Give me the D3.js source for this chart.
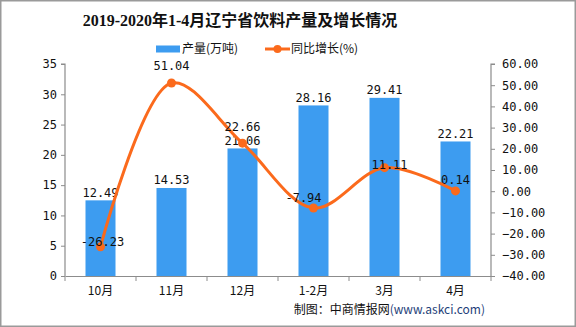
<!DOCTYPE html>
<html><head><meta charset="utf-8">
<script src="https://cdn.jsdelivr.net/npm/d3@7"></script>
<style>
body{margin:0;background:#fff;}
svg{display:block;}
</style></head>
<body>
<svg id="chart" width="576" height="327"></svg>
<script>
const categories = ["10月","11月","12月","1-2月","3月","4月"];
const production = [12.49, 14.53, 21.06, 28.16, 29.41, 22.21];
const growth = [-26.23, 51.04, 22.66, -7.94, 11.11, 0.14];
const leftTicks = [0,5,10,15,20,25,30,35];
const rightTicks = [-40,-30,-20,-10,0,10,20,30,40,50,60];
const lineLabelDy = [-4, -16, -16, -10, -2, -10];
const lineLabelDx = [2, 0, 0, -10, 5, 0];

const numFont = "'DejaVu Sans Mono','Noto Sans CJK SC',monospace";
const cjkFont = "'Noto Sans CJK SC','DejaVu Sans',sans-serif";
const barColor = "#3d9cf0", lineColor = "#fb6a1c", axisColor = "#8c8c8c";

const svg = d3.select("#chart");
const m = {left:65, right:491, top:64, bottom:276};

svg.append("rect").attr("x",0.75).attr("y",0.75).attr("width",574.5).attr("height",325.5)
  .attr("fill","#fff").attr("stroke","#9a9a9a").attr("stroke-width",1.5);

const x = d3.scaleBand().domain(categories).range([m.left,m.right]).paddingInner(0).paddingOuter(0);
const yL = d3.scaleLinear().domain([0,35]).range([m.bottom,m.top]);
const yR = d3.scaleLinear().domain([-40,60]).range([m.bottom,m.top]);

// axes
const gL = svg.append("g").attr("transform",`translate(${m.left},0)`)
  .call(d3.axisLeft(yL).tickValues(leftTicks).tickSize(4).tickPadding(4).tickFormat(d3.format("d")));
const gR = svg.append("g").attr("transform",`translate(${m.right},0)`)
  .call(d3.axisRight(yR).tickValues(rightTicks).tickSize(4).tickPadding(7).tickFormat(d3.format(".2f")));
const gX = svg.append("g").attr("transform",`translate(0,${m.bottom})`)
  .call(d3.axisBottom(x).tickSize(0).tickPadding(10));
// x ticks at band boundaries
const bounds = categories.map(c => x(c)).concat([m.right]);
gX.selectAll(".bt").data(bounds).enter().append("line").attr("class","bt")
  .attr("x1",d=>d).attr("x2",d=>d).attr("y1",0).attr("y2",5).attr("stroke",axisColor);

[gL,gR,gX].forEach(g=>{
  g.selectAll("path.domain").attr("stroke",axisColor).attr("stroke-width",1.2);
  g.selectAll(".tick line").attr("stroke",axisColor);
  g.selectAll("text").attr("fill","#111").style("font-family",numFont).style("font-size","12px");
});
gX.selectAll("text").style("font-family",cjkFont).style("font-size","12px");
gL.select("path.domain").attr("d",`M-4,${m.top}H0V${m.bottom}`);
gR.select("path.domain").attr("d",`M4,${m.top}H0V${m.bottom}`);

// bars
const bw = 30;
svg.append("g").selectAll("rect").data(production).enter().append("rect")
  .attr("x",(d,i)=>x(categories[i])+x.bandwidth()/2-bw/2)
  .attr("y",d=>yL(d)).attr("width",bw).attr("height",d=>m.bottom-yL(d))
  .attr("fill",barColor);
svg.append("g").selectAll("text").data(production).enter().append("text")
  .attr("x",(d,i)=>x(categories[i])+x.bandwidth()/2)
  .attr("y",d=>yL(d)-7).attr("text-anchor","middle").attr("dominant-baseline","middle")
  .style("font-family",numFont).style("font-size","12px").attr("fill","#111")
  .text(d=>d.toFixed(2));

// line
const pts = growth.map((d,i)=>[x(categories[i])+x.bandwidth()/2, yR(d)]);
svg.append("path").attr("d",d3.line().curve(d3.curveCatmullRom.alpha(0.5))(pts))
  .attr("fill","none").attr("stroke",lineColor).attr("stroke-width",3);
svg.append("g").selectAll("circle").data(pts).enter().append("circle")
  .attr("cx",d=>d[0]).attr("cy",d=>d[1]).attr("r",4.5).attr("fill",lineColor);
svg.append("g").selectAll("text").data(growth).enter().append("text")
  .attr("x",(d,i)=>pts[i][0]+lineLabelDx[i])
  .attr("y",(d,i)=>pts[i][1]+lineLabelDy[i]).attr("text-anchor","middle").attr("dominant-baseline","middle")
  .style("font-family",numFont).style("font-size","12px").attr("fill","#111")
  .text(d=>d.toFixed(2));

// title
svg.append("text").attr("x",240).attr("y",22).attr("text-anchor","middle").attr("dominant-baseline","middle")
  .style("font-family","'Liberation Serif','Noto Sans CJK SC',serif").style("font-size","16px").style("font-weight","bold")
  .attr("fill","#111").text("2019-2020年1-4月辽宁省饮料产量及增长情况");

// legend
svg.append("rect").attr("x",156).attr("y",45.5).attr("width",24).attr("height",7).attr("fill",barColor);
svg.append("text").attr("x",182).attr("y",49.5).attr("dominant-baseline","middle")
  .style("font-family",cjkFont).style("font-size","12px").attr("fill","#111").text("产量(万吨)");
svg.append("line").attr("x1",265).attr("x2",290).attr("y1",49).attr("y2",49).attr("stroke",lineColor).attr("stroke-width",3);
svg.append("circle").attr("cx",277.5).attr("cy",49).attr("r",4).attr("fill",lineColor);
svg.append("text").attr("x",291).attr("y",49.5).attr("dominant-baseline","middle")
  .style("font-family",cjkFont).style("font-size","12px").attr("fill","#111").text("同比增长(%)");

// source
const src = svg.append("text").attr("x",485).attr("y",311).attr("text-anchor","end").attr("dominant-baseline","middle")
  .style("font-family",cjkFont).style("font-size","12px");
src.append("tspan").attr("fill","#111").text("制图：中商情报网");
src.append("tspan").attr("fill","#1f3f7a").text("(www.askci.com)");
</script>
</body></html>
